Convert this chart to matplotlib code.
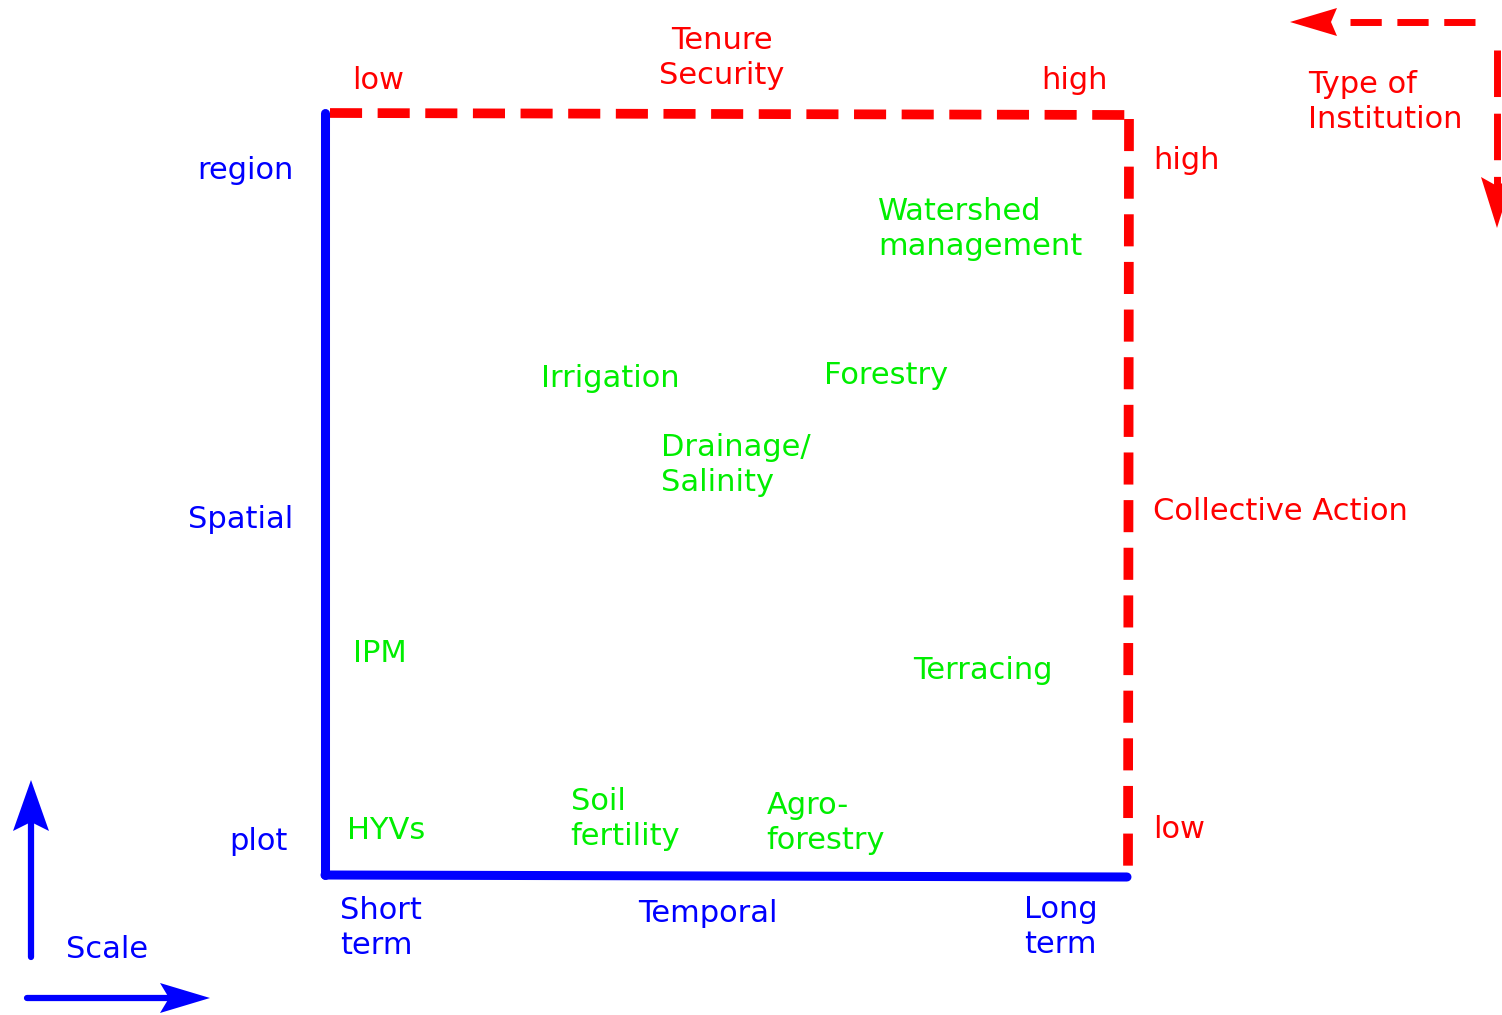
import matplotlib.pyplot as plt
from matplotlib.patches import Polygon

# practices placed in the temporal (x) / spatial (y) plane, 0..10 each
practices = ['Watershed\nmanagement', 'Irrigation', 'Forestry', 'Drainage/\nSalinity',
             'IPM', 'Terracing', 'HYVs', 'Soil\nfertility', 'Agro-\nforestry']
temporal = [6.89, 2.69, 6.21, 4.18, 0.35, 7.32, 0.27, 3.06, 5.50]
spatial = [8.48, 6.52, 6.55, 5.38, 2.91, 2.68, 0.58, 0.73, 0.68]

RED = '#ff0000'
BLUE = '#0000ff'
GREEN = '#00ee00'
FS = 22
LS = 1.25

plt.rcParams['font.family'] = ['DejaVu Sans']

W, H = 1502, 1015
fig = plt.figure(figsize=(W / 100, H / 100), dpi=100)

# overlay in pixel coordinates for frame, arrows and labels
over = fig.add_axes([0, 0, 1, 1])
over.set_xlim(0, W)
over.set_ylim(H, 0)
over.axis('off')

# main concept plane
left, right, top, bottom = 325, 1128, 113, 875
ax = fig.add_axes([left / W, (H - bottom) / H, (right - left) / W, (bottom - top) / H])
ax.set_xlim(0, 10)
ax.set_ylim(0, 10)
ax.axis('off')

for name, x, y in zip(practices, temporal, spatial):
    ax.text(x, y, name, color=GREEN, fontsize=FS, ha='left', va='center',
            linespacing=LS, clip_on=False)

# frame: red dashed (tenure / collective action), blue solid (scale)
dash = dict(color=RED, lw=7, linestyle=(0, (3.3, 1.6)), solid_capstyle='butt')
over.plot([330, 1131], [113, 115], **dash)
over.plot([1129, 1128], [119, 870], **dash)
over.plot([325, 325], [113, 875], color=BLUE, lw=6.5, solid_capstyle='round')
over.plot([325, 1127], [875, 877], color=BLUE, lw=6.5, solid_capstyle='round')


# corner arrows: shaft plus notched head
def head(tip, back, half, notch, color, vertical):
    tx, ty = tip
    if vertical:
        pts = [(tx, ty), (tx - half, back), (tx, notch), (tx + half, back)]
    else:
        pts = [(tx, ty), (back, ty - half), (notch, ty), (back, ty + half)]
    over.add_patch(Polygon(pts, closed=True, color=color, lw=0))


over.plot([1475, 1347], [22, 22], color=RED, lw=5, linestyle=(0, (4.5, 2.25)),
          solid_capstyle='butt')
head((1290, 22), 1337, 14, 1331, RED, False)
over.plot([1497, 1497], [50, 190], color=RED, lw=5, linestyle=(0, (6.7, 2.4)),
          solid_capstyle='butt')
head((1497, 228), 177, 16, 186, RED, True)

over.plot([31, 31], [957, 815], color=BLUE, lw=4.5, solid_capstyle='round')
head((31, 780), 831, 18, 822, BLUE, True)
over.plot([27, 175], [998, 998], color=BLUE, lw=4.5, solid_capstyle='round')
head((210, 998), 160, 15, 169, BLUE, False)


def label(x, y, s, color, ha='left'):
    over.text(x, y, s, color=color, fontsize=FS, ha=ha, va='center', linespacing=LS)


label(722, 58, 'Tenure\nSecurity', RED, ha='center')
label(352, 80, 'low', RED)
label(1041, 80, 'high', RED)
label(1308, 102, 'Type of\nInstitution', RED)
label(1153, 160, 'high', RED)
label(1153, 512, 'Collective Action', RED)
label(1153, 830, 'low', RED)

label(294, 170, 'region', BLUE, ha='right')
label(293, 519, 'Spatial', BLUE, ha='right')
label(288, 842, 'plot', BLUE, ha='right')
label(340, 928, 'Short\nterm', BLUE)
label(638, 914, 'Temporal', BLUE)
label(1024, 927, 'Long\nterm', BLUE)
label(66, 949, 'Scale', BLUE)

fig.savefig('out.png', dpi=100)
